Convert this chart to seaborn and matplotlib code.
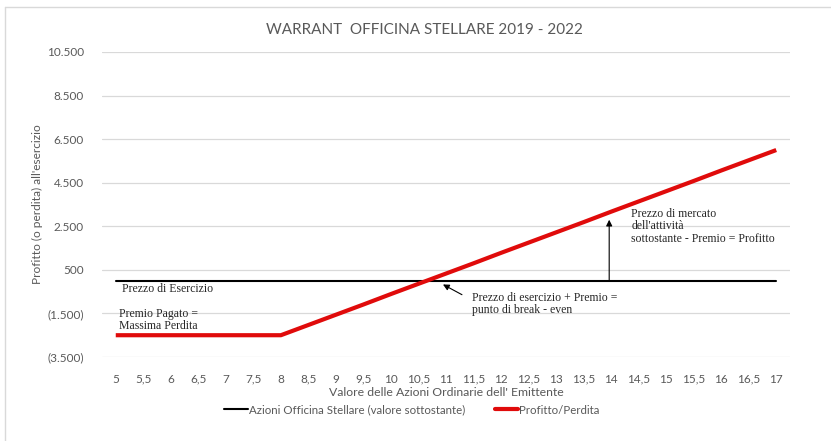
import matplotlib
matplotlib.use("Agg")
import matplotlib.pyplot as plt
import seaborn as sns
import pandas as pd
from matplotlib.lines import Line2D

# ---- data ----
prezzi = ["5", "5,5", "6", "6,5", "7", "7,5", "8", "8,5", "9", "9,5", "10", "10,5",
          "11", "11,5", "12", "12,5", "13", "13,5", "14", "14,5", "15", "15,5",
          "16", "16,5", "17"]
azioni = [0] * 25
profitto = [-2500, -2500, -2500, -2500, -2500, -2500, -2500,
            -2030, -1560, -1090, -610, -140, 330, 800, 1280, 1750,
            2220, 2690, 3170, 3640, 4110, 4580, 5060, 5530, 6000]
y_ticks = [-3500, -1500, 500, 2500, 4500, 6500, 8500, 10500]
y_tick_labels = ["(3.500)", "(1.500)", "500", "2.500", "4.500", "6.500", "8.500", "10.500"]

serie_nere = "Azioni Officina Stellare (valore sottostante)"
serie_rosse = "Profitto/Perdita"

df = pd.DataFrame({"prezzo": prezzi * 2,
                   "valore": azioni + profitto,
                   "serie": [serie_nere] * 25 + [serie_rosse] * 25})

sns.set_style("white")
plt.rcParams["font.family"] = ["Lato", "DejaVu Sans"]

fig = plt.figure(figsize=(8.31, 4.41), dpi=100)
ax = fig.add_axes([102 / 831, 1 - 357 / 441, (790 - 102) / 831, (357 - 52) / 441])

gray = "#595959"
ax.set_ylim(-3500, 10500)
ax.set_yticks(y_ticks)
ax.set_yticklabels(y_tick_labels)
ax.yaxis.grid(True, color="#d9d9d9", linewidth=0.9)
ax.set_axisbelow(True)

sns.lineplot(data=df, x="prezzo", y="valore", hue="serie",
             palette={serie_nere: "#000000", serie_rosse: "#e00b0b"},
             ax=ax, sort=False, legend=False)
lines = ax.get_lines()
lines[0].set_linewidth(1.5)
lines[1].set_linewidth(3.0)
lines[1].set_solid_capstyle("butt")

ax.set_xlim(-0.5, 24.5)
for s in ["top", "right", "left", "bottom"]:
    ax.spines[s].set_visible(False)
ax.tick_params(axis="both", length=0, labelsize=8.5, colors=gray)
ax.tick_params(axis="y", pad=13)
ax.tick_params(axis="x", pad=12)
ax.set_xlabel("Valore delle Azioni Ordinarie dell' Emittente", fontsize=8.8, color=gray, labelpad=2)
ax.set_ylabel("Profitto (o perdita) all'esercizio", fontsize=8.6, color=gray, labelpad=3)
fig.text(424 / 831, 1 - 30 / 441, "WARRANT  OFFICINA STELLARE 2019 - 2022",
         ha="center", va="center", fontsize=11.0, color=gray)

serif = ["Liberation Serif", "DejaVu Serif"]
fs = 8.5
ax.text(0.22, -360, "Prezzo di Esercizio", family=serif, fontsize=fs, va="center", ha="left")
ax.text(0.11, -1780, "Premio Pagato =\nMassima Perdita", family=serif, fontsize=fs,
        va="center", ha="left", linespacing=1.0)
ax.text(12.95, -1060, "Prezzo di esercizio + Premio =\npunto di break - even", family=serif,
        fontsize=fs, va="center", ha="left", linespacing=1.0)
ax.text(18.73, 2510, "Prezzo di mercato\ndell'attività\nsottostante - Premio = Profitto",
        family=serif, fontsize=fs, va="center", ha="left", linespacing=1.05)
ax.annotate("", xy=(11.89, -170), xytext=(12.58, -640),
            arrowprops=dict(arrowstyle="-|>", color="#000000", lw=0.8,
                            mutation_scale=9, shrinkA=0, shrinkB=0))
ax.annotate("", xy=(17.93, 2800), xytext=(17.93, 0),
            arrowprops=dict(arrowstyle="-|>", color="#000000", lw=0.8,
                            mutation_scale=9, shrinkA=0, shrinkB=0))

handles = [Line2D([], [], color="#000000", lw=1.5), Line2D([], [], color="#e00b0b", lw=3.0)]
fig.legend(handles, [serie_nere, serie_rosse], loc="center", ncol=2,
           bbox_to_anchor=(412 / 831, 1 - 410 / 441), frameon=False,
           prop={"family": ["Lato", "DejaVu Sans"], "size": 8.3},
           labelcolor=gray, handlelength=2.0, handletextpad=0.1, columnspacing=2.6)

# chart border (top and left visible)
fig.add_artist(Line2D([5 / 831, 1.0], [1 - 7 / 441, 1 - 7 / 441], color="#d9d9d9", lw=1))
fig.add_artist(Line2D([5 / 831, 5 / 831], [0.0, 1 - 7 / 441], color="#d9d9d9", lw=1))

fig.savefig("out.png", dpi=100, facecolor="white")
